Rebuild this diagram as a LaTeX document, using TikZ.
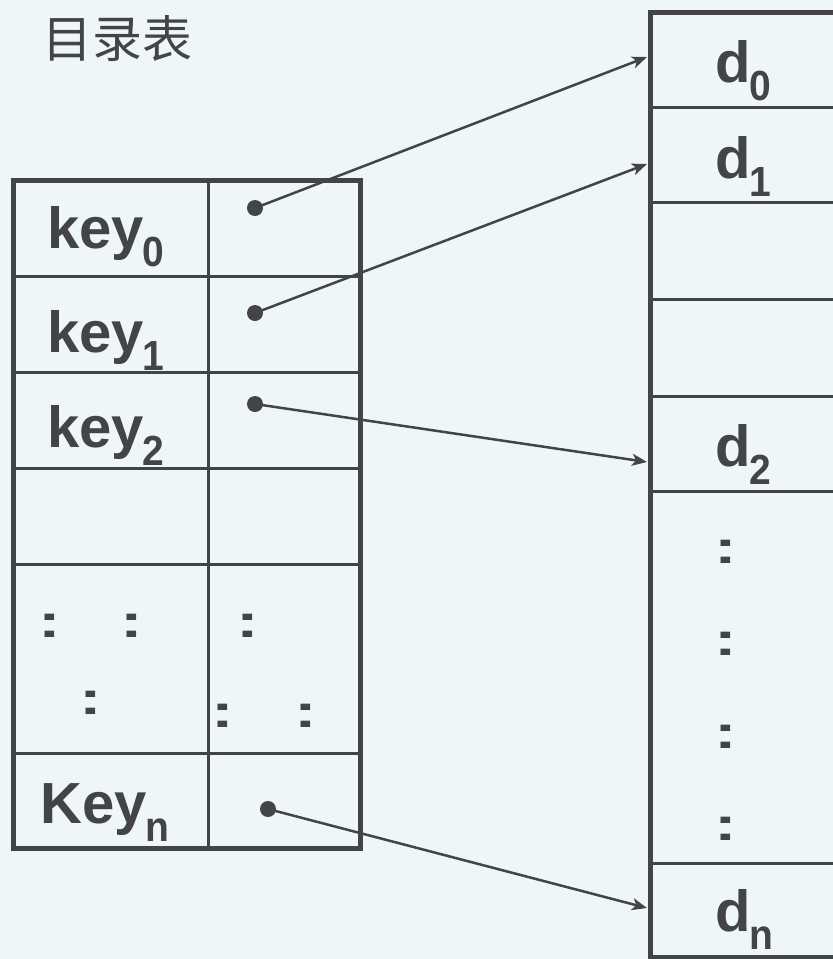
\documentclass[tikz,border=0pt]{standalone}
\usepackage{fontspec}
\setmainfont{Liberation Sans}
\newfontfamily\cjk{Noto Sans CJK SC}
\usetikzlibrary{arrows.meta}
\definecolor{ink}{HTML}{434446}
\definecolor{bgc}{HTML}{EFF6FA}
\newcommand\subt[1]{\kern-1pt\raisebox{-18pt}{\scalebox{1}[1.08]{\fontsize{39}{39}\selectfont #1}}}
\newcommand\colonmark{\scalebox{1}[0.68]{:}}
\tikzset{
  lbl/.style={inner sep=0pt, anchor=base west, text=ink, font=\fontsize{58}{58}\selectfont\bfseries},
  colon/.style={inner sep=0pt, text=ink, font=\fontsize{68}{68}\selectfont\bfseries},
  ttl/.style={inner sep=0pt, text=ink, font=\fontsize{50}{50}\selectfont\cjk},
  dotn/.style={circle, fill=ink, inner sep=0pt, minimum size=16pt},
  outer/.style={draw=ink, line width=5pt},
  inner/.style={draw=ink, line width=3pt},
  conn/.style={draw=ink, line width=2.5pt, -{Stealth[length=15pt,width=12pt,inset=4pt]}}
}
\begin{document}
\begin{tikzpicture}[x=1pt,y=-1pt]
\useasboundingbox (0,0) rectangle (833,959);
\clip (0,0) rectangle (833,959);
\fill[bgc] (0,0) rectangle (833,959);
% title
\node[ttl] (title) at (117,39) {目录表};
% left table
\foreach \yy in {276,372,468,564,753} \draw[inner] (13,\yy) -- (360,\yy);
\draw[inner] (208,180) -- (208,848);
\draw[outer] (13,180) rectangle (360,848);
% right table
\foreach \yy in {107,202,299,396,491,863} \draw[inner] (650,\yy) -- (850,\yy);
\draw[outer] (650,12) rectangle (850,957);
% left labels
\node[lbl] (k0) at (47,248) {key\subt{0}};
\node[lbl] (k1) at (47,352) {key\subt{1}};
\node[lbl] (k2) at (47,447) {key\subt{2}};
\node[lbl] (kn) at (40,823) {Key\subt{n}};
% colons left table
\node[colon] (c1) at (50,626) {\colonmark};
\node[colon] (c2) at (132,626) {\colonmark};
\node[colon] (c3) at (91,703) {\colonmark};
\node[colon] (c4) at (248,626) {\colonmark};
\node[colon] (c5) at (223,716) {\colonmark};
\node[colon] (c6) at (306,716) {\colonmark};
% right labels
\node[lbl] (d0) at (715,82) {d\subt{0}};
\node[lbl] (d1) at (715,178) {d\subt{1}};
\node[lbl] (d2) at (715,466) {d\subt{2}};
\node[lbl] (dn) at (715,931) {d\subt{n}};
% colons right table
\node[colon] (r1) at (726,552) {\colonmark};
\node[colon] (r2) at (726,644) {\colonmark};
\node[colon] (r3) at (726,737) {\colonmark};
\node[colon] (r4) at (726,829) {\colonmark};
% pointers
\node[dotn] (p0) at (255,208) {};
\node[dotn] (p1) at (255,313) {};
\node[dotn] (p2) at (255,404) {};
\node[dotn] (pn) at (268,809) {};
\coordinate (t0) at (647,57);
\coordinate (t1) at (647,164);
\coordinate (t2) at (647,462);
\coordinate (tn) at (647,908);
\draw[conn] (p0.center) -- (t0);
\draw[conn] (p1.center) -- (t1);
\draw[conn] (p2.center) -- (t2);
\draw[conn] (pn.center) -- (tn);
\end{tikzpicture}
\end{document}
